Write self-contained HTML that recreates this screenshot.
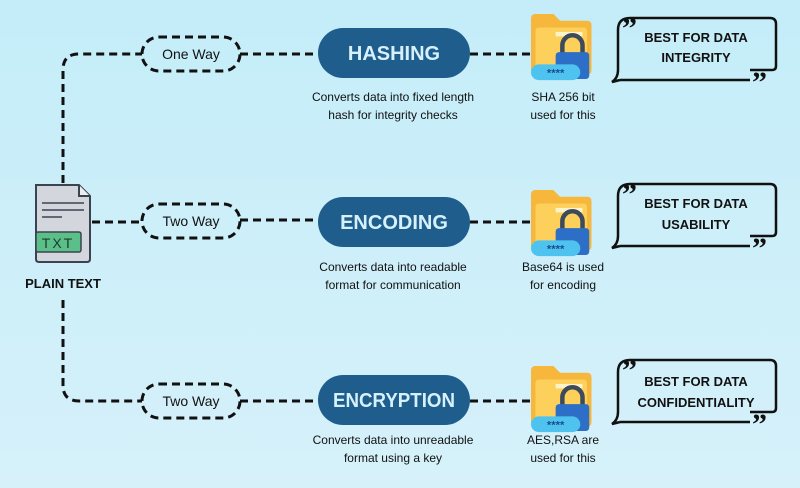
<!DOCTYPE html>
<html><head><meta charset="utf-8"><style>
html,body{margin:0;padding:0}
body{width:800px;height:488px;overflow:hidden;background:linear-gradient(180deg,#c4edf9 0%,#cdeff9 50%,#d6f1fa 100%)}
svg{display:block;font-family:"Liberation Sans",sans-serif}
</style></head><body>
<svg width="800" height="488" viewBox="0 0 800 488" xmlns="http://www.w3.org/2000/svg">
<defs>
<g id="fold">
<path d="M0 4 q0-4 4-4 h16 l6 6 h24 q4 0 4 4 v40 q0 4-4 4 h-46 q-4 0-4-4z" fill="#f6b73c"/>
<rect x="4" y="12" width="46" height="40" rx="3" fill="#fcd05a"/>
<rect x="22" y="16" width="24" height="4" fill="#fff3c8"/>
<path d="M28 36 v-8 a9 9 0 0 1 18 0 v8" fill="none" stroke="#3d4a5a" stroke-width="4"/>
<rect x="22" y="34" width="30" height="24" rx="3" fill="#2d6fc7"/>
<rect x="0" y="45" width="44" height="14" rx="7" fill="#4fc3f0"/>
<text x="22" y="56" font-size="10" fill="#1a4f8c" text-anchor="middle" font-weight="bold">****</text>
</g>
</defs>
<g fill="none" stroke="#111" stroke-width="3" stroke-dasharray="8,5">
<path d="M63 183 V70 q0-16 16-16 H142"/>
<path d="M63 300 V385 q0 16 16 16 H142"/>
<path d="M92 222 H142"/>
<path d="M240 54 H318 M240 220 H318 M240 401 H318"/>
<path d="M470 54 H530 M470 222 H530 M470 401 H530"/>
<rect x="142" y="37" width="98" height="34" rx="17"/>
<rect x="142" y="204" width="98" height="34" rx="17"/>
<rect x="142" y="384" width="98" height="34" rx="17"/>
</g>
<g font-size="14" fill="#111" text-anchor="middle">
<text x="191" y="59">One Way</text><text x="191" y="226">Two Way</text><text x="191" y="406">Two Way</text>
</g>
<g fill="#1f5e8c">
<rect x="318" y="28" width="152" height="50" rx="25"/>
<rect x="318" y="197" width="152" height="50" rx="25"/>
<rect x="318" y="375" width="152" height="50" rx="25"/>
</g>
<g font-size="20" font-weight="bold" fill="#d6f1fb" text-anchor="middle">
<text x="394" y="60">HASHING</text><text x="394" y="229">ENCODING</text><text x="394" y="407" textLength="122" lengthAdjust="spacingAndGlyphs">ENCRYPTION</text>
</g>
<g font-size="12" fill="#111" text-anchor="middle">
<text x="393" y="101">Converts data into fixed length</text><text x="393" y="119">hash for integrity checks</text>
<text x="393" y="271">Converts data into readable</text><text x="393" y="289">format for communication</text>
<text x="393" y="444">Converts data into unreadable</text><text x="393" y="462">format using a key</text>
<text x="563" y="101">SHA 256 bit</text><text x="563" y="119">used for this</text>
<text x="563" y="271">Base64 is used</text><text x="563" y="289">for encoding</text>
<text x="563" y="444">AES,RSA are</text><text x="563" y="462">used for this</text>
</g>
<use href="#fold" transform="translate(531,14) scale(1.12)"/>
<use href="#fold" transform="translate(531,190) scale(1.12)"/>
<use href="#fold" transform="translate(531,366) scale(1.12)"/>
<g fill="none" stroke="#111" stroke-width="2.5">
<path d="M620 80 L612 82 q6-4 6-12 V30 q0-12 12-12 H770 q6 0 6 6 V66 q0 4-4 4 H750"/><path d="M620 80 H750"/>
<path d="M620 246 L612 248 q6-4 6-12 V196 q0-12 12-12 H770 q6 0 6 6 V232 q0 4-4 4 H750"/><path d="M620 246 H750"/>
<path d="M620 422 L612 424 q6-4 6-12 V372 q0-12 12-12 H770 q6 0 6 6 V408 q0 4-4 4 H750"/><path d="M620 422 H750"/>
</g>
<g font-size="30" font-weight="bold" fill="#111" font-family="Liberation Serif,serif">
<text x="622" y="38">”</text><text x="752" y="92">”</text>
<text x="622" y="204">”</text><text x="752" y="258">”</text>
<text x="622" y="380">”</text><text x="752" y="434">”</text>
</g>
<g font-size="13" font-weight="bold" fill="#111" text-anchor="middle">
<text x="696" y="42">BEST FOR DATA</text><text x="696" y="62">INTEGRITY</text>
<text x="696" y="208">BEST FOR DATA</text><text x="696" y="229">USABILITY</text>
<text x="696" y="386">BEST FOR DATA</text><text x="696" y="407">CONFIDENTIALITY</text>
</g>
<g>
<path d="M36 185 H79 L90 196 V259 q0 3-3 3 H39 q-3 0-3-3z" fill="#d3d6dc" stroke="#3c4350" stroke-width="2"/>
<path d="M79 185 V196 H90" fill="#eceef2" stroke="#3c4350" stroke-width="2"/>
<path d="M42 203 H84 M42 210 H84 M42 217 H62" stroke="#3c4350" stroke-width="1.5"/>
<rect x="36" y="232" width="45" height="20" rx="2" fill="#5bbf8a" stroke="#3c4350" stroke-width="1.5"/>
<text x="58" y="248" font-size="14" fill="#1d3b2b" text-anchor="middle" letter-spacing="2">TXT</text>
</g>
<text x="63" y="288" font-size="13" font-weight="bold" fill="#111" text-anchor="middle">PLAIN TEXT</text>
</svg>
</body></html>
